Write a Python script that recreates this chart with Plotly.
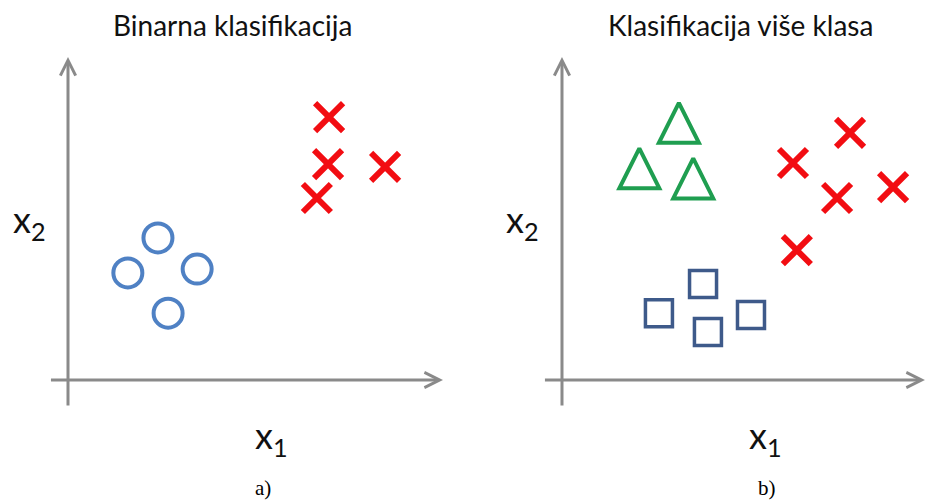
import plotly.graph_objects as go

# ---- data (arbitrary feature units, origin at axis crossing) ----
# a) binary classification
bin_cross_x1 = [7.46, 7.43, 9.06, 7.11]
bin_cross_x2 = [7.51, 6.17, 6.09, 5.20]
bin_circle_x1 = [2.57, 1.71, 3.69, 2.86]
bin_circle_x2 = [4.06, 3.06, 3.17, 1.91]

# b) multi-class classification
mc_tri_x1 = [3.34, 2.21, 3.75]
mc_tri_x2 = [7.92, 6.62, 6.33]
mc_cross_x1 = [8.23, 6.60, 7.86, 9.46, 6.71]
mc_cross_x2 = [7.06, 6.20, 5.20, 5.51, 3.71]
mc_sq_x1 = [4.03, 2.77, 4.17, 5.40]
mc_sq_x2 = [2.74, 1.91, 1.37, 1.86]

titles = ["Binarna klasifikacija", "Klasifikacija više klasa"]
captions = ["a)", "b)"]

# ---- styles ----
RED = "#f20d12"
BLUE = "#4f81c4"
GREEN = "#1f9e50"
NAVY = "#3e5a8a"
GREY = "#8a8a8a"
W, H = 927, 501

fig = go.Figure()

def cross(x, y, xa, ya):
    return go.Scatter(x=x, y=y, mode="markers", xaxis=xa, yaxis=ya,
                      marker=dict(symbol="x-thin-open", size=28, color=RED,
                                  line=dict(color=RED, width=6)),
                      showlegend=False, hoverinfo="skip")

fig.add_trace(cross(bin_cross_x1, bin_cross_x2, "x", "y"))
fig.add_trace(go.Scatter(x=bin_circle_x1, y=bin_circle_x2, mode="markers",
                         xaxis="x", yaxis="y",
                         marker=dict(symbol="circle-open", size=29, color=BLUE,
                                     line=dict(color=BLUE, width=4)),
                         showlegend=False, hoverinfo="skip"))

fig.add_trace(go.Scatter(x=mc_tri_x1, y=mc_tri_x2, mode="markers",
                         xaxis="x2", yaxis="y2",
                         marker=dict(symbol="arrow-up-open", size=40, color=GREEN,
                                     line=dict(color=GREEN, width=4)),
                         showlegend=False, hoverinfo="skip"))
fig.add_trace(cross(mc_cross_x1, mc_cross_x2, "x2", "y2"))
fig.add_trace(go.Scatter(x=mc_sq_x1, y=mc_sq_x2, mode="markers",
                         xaxis="x2", yaxis="y2",
                         marker=dict(symbol="square-open", size=27, color=NAVY,
                                     line=dict(color=NAVY, width=3.5)),
                         showlegend=False, hoverinfo="skip"))

ax_common = dict(visible=False, showgrid=False, zeroline=False, fixedrange=True)
fig.update_layout(
    width=W, height=H,
    margin=dict(l=0, r=0, t=0, b=0),
    paper_bgcolor="white", plot_bgcolor="white",
    xaxis=dict(domain=[0, 0.5], range=[-1.943, 11.3], anchor="y", **ax_common),
    yaxis=dict(domain=[0, 1], range=[-3.457, 10.857], anchor="x", **ax_common),
    xaxis2=dict(domain=[0.5, 1], range=[-2.814, 10.429], anchor="y2", **ax_common),
    yaxis2=dict(domain=[0, 1], range=[-3.457, 10.857], anchor="x2", **ax_common),
)

ann = []
# axis arrows (tail -> head)
for xa, ya, xend in (("x", "y", 10.714), ("x2", "y2", 10.37)):
    ann.append(dict(x=0, y=9.229, ax=0, ay=-0.771, xref=xa, yref=ya, axref=xa, ayref=ya,
                    showarrow=True, arrowhead=5, arrowwidth=3, arrowsize=1,
                    arrowcolor=GREY, text=""))
    ann.append(dict(x=xend, y=0, ax=-0.53, ay=0, xref=xa, yref=ya, axref=xa, ayref=ya,
                    showarrow=True, arrowhead=5, arrowwidth=3, arrowsize=1,
                    arrowcolor=GREY, text=""))

def px(xp, yp):
    return xp / W, 1 - yp / H

sans = "Lato, 'Open Sans', sans-serif"
for t, cx in zip(titles, (232, 740)):
    x, y = px(cx, 25)
    ann.append(dict(x=x, y=y, xref="paper", yref="paper", text=t, showarrow=False,
                    xanchor="center", yanchor="middle",
                    font=dict(family=sans, size=28, color="#111111")))
for cx in (29, 522):
    x, y = px(cx, 222)
    ann.append(dict(x=x, y=y, xref="paper", yref="paper", text="x<sub>2</sub>",
                    showarrow=False, xanchor="center", yanchor="middle",
                    font=dict(family=sans, size=36, color="#111111")))
for cx in (271, 765):
    x, y = px(cx, 437)
    ann.append(dict(x=x, y=y, xref="paper", yref="paper", text="x<sub>1</sub>",
                    showarrow=False, xanchor="center", yanchor="middle",
                    font=dict(family=sans, size=36, color="#111111")))
for c, cx in zip(captions, (263, 767)):
    x, y = px(cx, 488)
    ann.append(dict(x=x, y=y, xref="paper", yref="paper", text=c, showarrow=False,
                    xanchor="center", yanchor="middle",
                    font=dict(family="'Liberation Serif', 'Times New Roman', serif",
                              size=21, color="#000000")))

fig.update_layout(annotations=ann)
fig.write_html("out.html",
               config={"displayModeBar": False, "staticPlot": True},
               post_script="document.body.style.margin='0';document.body.style.overflow='hidden';")
